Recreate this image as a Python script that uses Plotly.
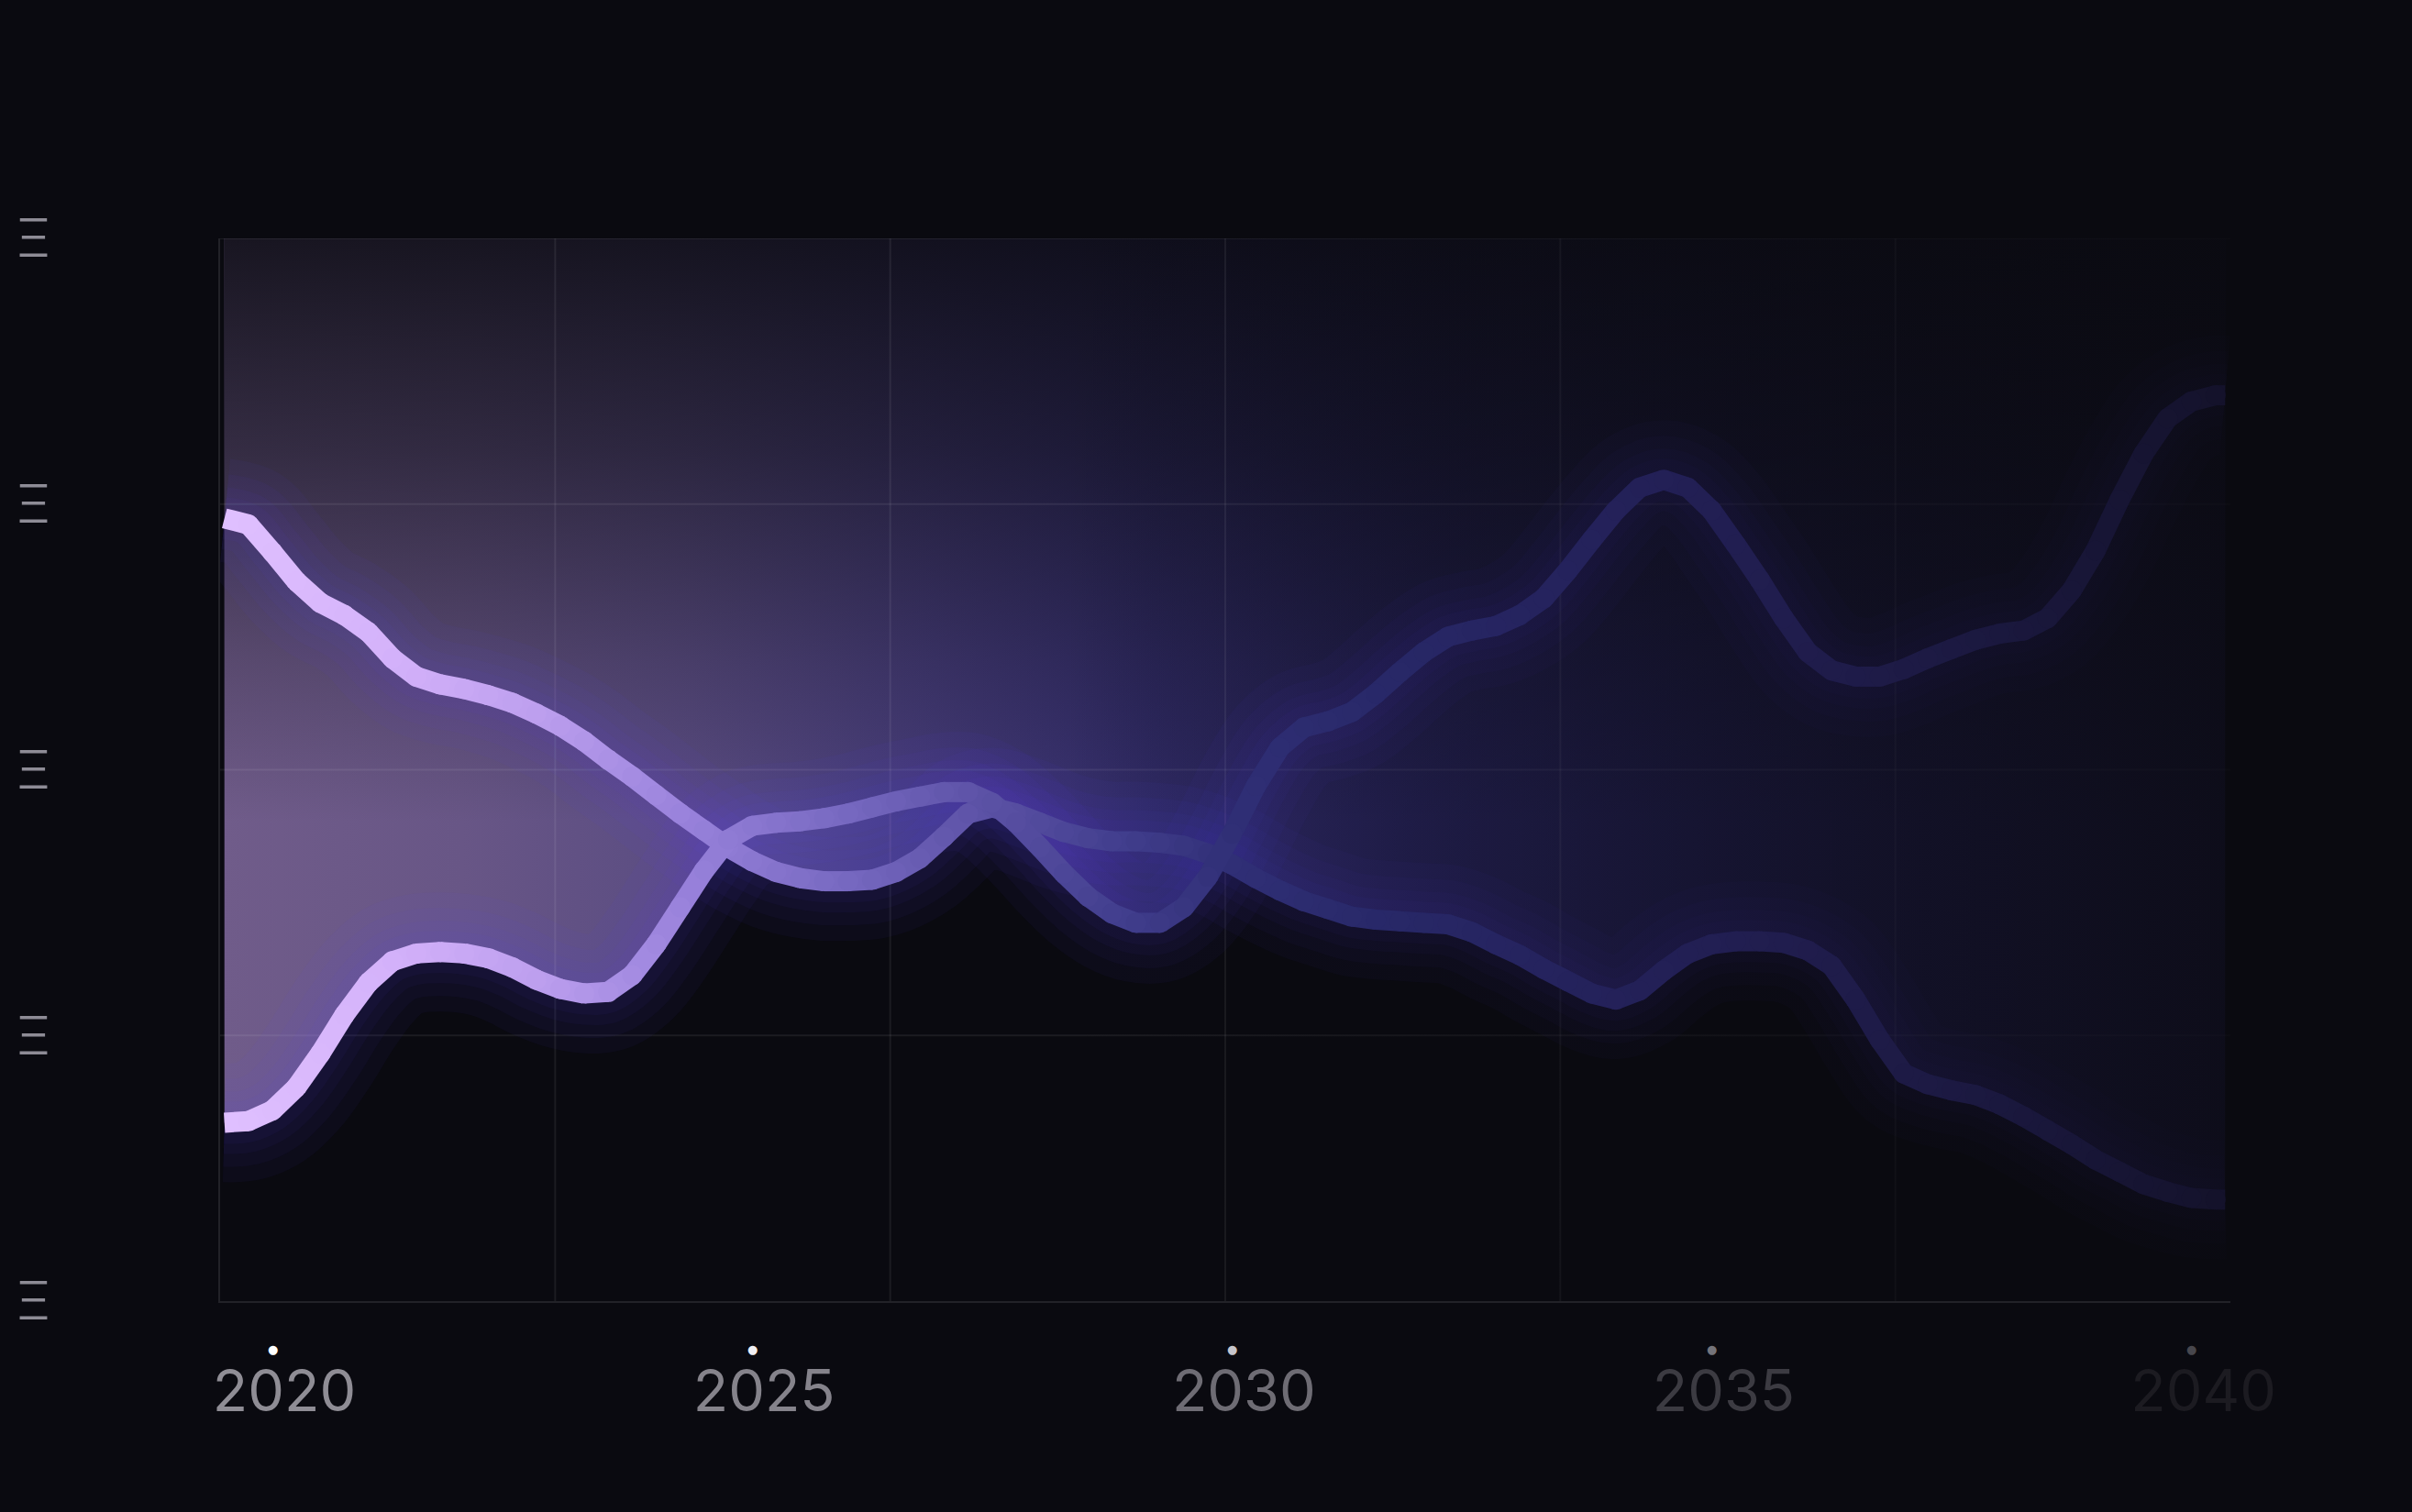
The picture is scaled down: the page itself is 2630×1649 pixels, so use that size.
import plotly.graph_objects as go

# ---------------- data ----------------
years = [2019.5, 2019.75,
         2020.0, 2020.25, 2020.5, 2020.75,
         2021.0, 2021.25, 2021.5, 2021.75,
         2022.0, 2022.25, 2022.5, 2022.75,
         2023.0, 2023.25, 2023.5, 2023.75,
         2024.0, 2024.25, 2024.5, 2024.75,
         2025.0, 2025.25, 2025.5, 2025.75,
         2026.0, 2026.25, 2026.5, 2026.75,
         2027.0, 2027.25, 2027.5, 2027.75,
         2028.0, 2028.25, 2028.5, 2028.75,
         2029.0, 2029.25, 2029.5, 2029.75,
         2030.0, 2030.25, 2030.5, 2030.75,
         2031.0, 2031.25, 2031.5, 2031.75,
         2032.0, 2032.25, 2032.5, 2032.75,
         2033.0, 2033.25, 2033.5, 2033.75,
         2034.0, 2034.25, 2034.5, 2034.75,
         2035.0, 2035.25, 2035.5, 2035.75,
         2036.0, 2036.25, 2036.5, 2036.75,
         2037.0, 2037.25, 2037.5, 2037.75,
         2038.0, 2038.25, 2038.5, 2038.75,
         2039.0, 2039.25, 2039.5, 2039.75,
         2040.0, 2040.25, 2040.35]

series_a = [73.66, 73.08,
            70.48, 67.73, 65.70, 64.55,
            62.95, 60.49, 58.76, 58.03,
            57.60, 57.02, 56.30, 55.28,
            54.13, 52.68, 50.94, 49.35,
            47.61, 45.88, 44.28, 42.69,
            41.39, 40.38, 39.80, 39.51,
            39.51, 39.65, 40.38, 41.68,
            43.71, 45.88, 46.46, 45.88,
            45.01, 44.14, 43.56, 43.27,
            43.27, 43.13, 42.84, 42.11,
            41.10, 39.80, 38.64, 37.63,
            36.90, 36.18, 35.89, 35.75,
            35.60, 35.46, 34.73, 33.58,
            32.56, 31.26, 30.10, 28.94,
            28.37, 29.23, 31.11, 32.71,
            33.58, 33.86, 33.86, 33.72,
            33.00, 31.55, 28.37, 24.60,
            21.42, 20.41, 19.83, 19.39,
            18.52, 17.37, 16.06, 14.76,
            13.31, 12.16, 11.00, 10.28,
            9.70, 9.55, 9.55]

series_b = [16.79, 16.93,
            17.95, 20.12, 23.30, 26.92,
            29.96, 31.98, 32.71, 32.85,
            32.71, 32.27, 31.40, 30.25,
            29.38, 28.94, 29.09, 30.68,
            33.58, 37.05, 40.52, 43.42,
            44.72, 45.01, 45.15, 45.44,
            45.88, 46.46, 47.03, 47.47,
            47.90, 47.90, 46.89, 45.01,
            42.69, 40.23, 38.06, 36.47,
            35.60, 35.60, 37.05, 39.94,
            43.99, 48.48, 52.10, 53.98,
            54.56, 55.43, 57.16, 59.19,
            61.07, 62.52, 63.10, 63.53,
            64.55, 66.14, 68.74, 71.64,
            74.39, 76.56, 77.28, 76.56,
            74.39, 71.20, 67.87, 64.26,
            61.07, 59.34, 58.76, 58.76,
            59.48, 60.49, 61.36, 62.23,
            62.81, 63.10, 64.26, 66.86,
            70.62, 75.40, 79.74, 83.07,
            84.66, 85.24, 85.24]

tick_years = [2020, 2025, 2030, 2035, 2040]
tick_labels = ["2020", "2025", "2030", "2035", "2040"]
y_tick_values = [0, 25, 50, 75, 100]
y_tick_labels = ["Ξ", "Ξ", "Ξ", "Ξ", "Ξ"]

# ---------------- style ----------------
BG = "#0a0a10"
BG_RGB = (10, 10, 16)
X_RANGE = [2019.455, 2040.405]
Y_RANGE = [0, 100]
GRID_X = [X_RANGE[0] + i * (X_RANGE[1] - X_RANGE[0]) / 6 for i in range(1, 6)]
GRID_Y = [25, 50, 75, 100]
GRID_COLOR = "rgba(255,255,255,0.075)"
LINE_W = 22

tick_label_colors = ["#8f8d95", "#85838b", "#6e6c74", "#3c3b42", "#1c1b21"]
tick_dot_colors = ["#ffffff", "#f0eff3", "#c6c5cb", "#75747a", "#48474d"]

LINE_STOPS = [
    (2019.45, (224, 192, 255)),
    (2021.2, (212, 178, 250)),
    (2022.8, (188, 158, 238)),
    (2024.4, (150, 128, 218)),
    (2026.0, (118, 104, 192)),
    (2027.4, (92, 82, 166)),
    (2028.7, (68, 64, 144)),
    (2030.0, (48, 47, 118)),
    (2031.6, (40, 40, 104)),
    (2033.2, (37, 35, 94)),
    (2034.8, (34, 31, 84)),
    (2037.2, (29, 26, 68)),
    (2038.8, (24, 22, 56)),
    (2040.4, (20, 18, 42)),
]


def lerp_color(stops, x):
    if x <= stops[0][0]:
        return stops[0][1]
    for (x0, c0), (x1, c1) in zip(stops, stops[1:]):
        if x <= x1:
            t = (x - x0) / (x1 - x0)
            return tuple(round(a + (b - a) * t) for a, b in zip(c0, c1))
    return stops[-1][1]


def rgb(c):
    return "rgb(%d,%d,%d)" % c


def rgba(c, a):
    return "rgba(%d,%d,%d,%.3f)" % (c[0], c[1], c[2], a)


fig = go.Figure()

# ---- area from top of plot down to the lower of the two lines ----
envelope = [min(a, b) for a, b in zip(series_a, series_b)]
poly_x = years + years[::-1]
poly_y = envelope + [Y_RANGE[1]] * len(years)

fill_scale = [
    [0.00, rgba((112, 92, 138), 1)],
    [0.12, rgba((104, 86, 134), 1)],
    [0.235, rgba((90, 76, 130), 1)],
    [0.35, rgba((70, 60, 122), 1)],
    [0.464, rgba((50, 44, 106), 1)],
    [0.58, rgba((40, 36, 94), 1)],
    [0.73, rgba((34, 31, 84), 1)],
    [1.00, rgba((30, 27, 72), 1)],
]
fig.add_trace(go.Scatter(
    x=poly_x, y=poly_y, fill="toself", mode="lines", line=dict(width=0),
    fillgradient=dict(type="horizontal", start=X_RANGE[0], stop=X_RANGE[1],
                      colorscale=fill_scale),
    hoverinfo="skip", showlegend=False))

# vertical darkening toward the top of the area
dark_scale = [
    [0.00, rgba(BG_RGB, 0)],
    [0.45, rgba(BG_RGB, 0)],
    [0.60, rgba(BG_RGB, 0.22)],
    [0.80, rgba(BG_RGB, 0.58)],
    [1.00, rgba(BG_RGB, 0.86)],
]
fig.add_trace(go.Scatter(
    x=poly_x, y=poly_y, fill="toself", mode="lines", line=dict(width=0),
    fillgradient=dict(type="vertical", start=Y_RANGE[0], stop=Y_RANGE[1],
                      colorscale=dark_scale),
    hoverinfo="skip", showlegend=False))

# ---- grid (drawn over the area, under the lines) ----
gx, gy = [], []
for g in GRID_X:
    gx += [g, g, None]
    gy += [Y_RANGE[0], Y_RANGE[1], None]
fig.add_trace(go.Scatter(x=gx, y=gy, mode="lines",
                         line=dict(color=GRID_COLOR, width=2),
                         hoverinfo="skip", showlegend=False))
hx, hy = [], []
for g in GRID_Y:
    hx += [X_RANGE[0], X_RANGE[1], None]
    hy += [g, g, None]
fig.add_trace(go.Scatter(x=hx, y=hy, mode="lines",
                         line=dict(color=GRID_COLOR, width=2),
                         hoverinfo="skip", showlegend=False))

# ---- soft glow around the lines ----
for ys in (series_a, series_b):
    for w in (130, 96, 68, 46):
        fig.add_trace(go.Scatter(x=years, y=ys, mode="lines", line_shape="spline",
                                 line=dict(color="rgba(104,64,250,0.045)", width=w),
                                 hoverinfo="skip", showlegend=False))

# ---- fade everything (except the lines) toward the right ----
fade_scale = [
    [0.00, rgba(BG_RGB, 0)],
    [0.42, rgba(BG_RGB, 0)],
    [0.62, rgba(BG_RGB, 0.35)],
    [0.82, rgba(BG_RGB, 0.62)],
    [1.00, rgba(BG_RGB, 0.82)],
]
fig.add_trace(go.Scatter(
    x=[X_RANGE[0], X_RANGE[1], X_RANGE[1], X_RANGE[0]],
    y=[Y_RANGE[0], Y_RANGE[0], Y_RANGE[1], Y_RANGE[1]],
    fill="toself", mode="lines", line=dict(width=0),
    fillgradient=dict(type="horizontal", start=X_RANGE[0], stop=X_RANGE[1],
                      colorscale=fade_scale),
    hoverinfo="skip", showlegend=False))


# ---- the two lines, colour changing along x ----
def add_line(xs, ys):
    for i in range(len(xs) - 1):
        c = lerp_color(LINE_STOPS, (xs[i] + xs[i + 1]) / 2)
        fig.add_trace(go.Scatter(x=xs[i:i + 2], y=ys[i:i + 2], mode="lines",
                                 line=dict(color=rgb(c), width=LINE_W),
                                 hoverinfo="skip", showlegend=False))
    fig.add_trace(go.Scatter(
        x=xs[1:-1], y=ys[1:-1], mode="markers",
        marker=dict(size=LINE_W, line=dict(width=0),
                    color=[rgb(lerp_color(LINE_STOPS, x)) for x in xs[1:-1]]),
        hoverinfo="skip", showlegend=False))


add_line(years, series_a)
add_line(years, series_b)

# ---- small dots above the year labels ----
annotations = [dict(x=yr, xref="x", y=0, yref="paper", yshift=-52,
                    text="●", showarrow=False, xanchor="center", yanchor="middle",
                    font=dict(size=13, color=c, family="DejaVu Sans"))
               for yr, c in zip(tick_years, tick_dot_colors)]

tick_text = ['<span style="color:%s">%s</span>' % (c, t)
             for c, t in zip(tick_label_colors, tick_labels)]

fig.update_layout(
    width=2630, height=1649,
    paper_bgcolor=BG, plot_bgcolor=BG,
    margin=dict(l=240, r=198, t=260, b=230),
    showlegend=False,
    annotations=annotations,
    font=dict(family="Inter, Roboto, sans-serif", color="#8f8d95"),
    xaxis=dict(
        range=X_RANGE, tickmode="array", tickvals=tick_years, ticktext=tick_text,
        showgrid=False, zeroline=False, ticks="", automargin=False,
        tickfont=dict(size=63, family="Inter", color="#8f8d95"),
        ticklabelstandoff=42, ticklabelshift=13,
        showline=True, linecolor="rgba(255,255,255,0.10)", linewidth=2,
    ),
    yaxis=dict(
        range=Y_RANGE, tickmode="array", tickvals=y_tick_values, ticktext=y_tick_labels,
        showgrid=False, zeroline=False, ticks="", automargin=False,
        tickfont=dict(size=58, family="Inter", color="#8e8c96", weight=300),
        ticklabelstandoff=171,
        showline=True, linecolor="rgba(255,255,255,0.10)", linewidth=2,
    ),
)

fig.write_html("out.html",
               config={"displayModeBar": False},
               post_script="document.body.style.margin='0';"
                           "document.body.style.background='%s';" % BG)
